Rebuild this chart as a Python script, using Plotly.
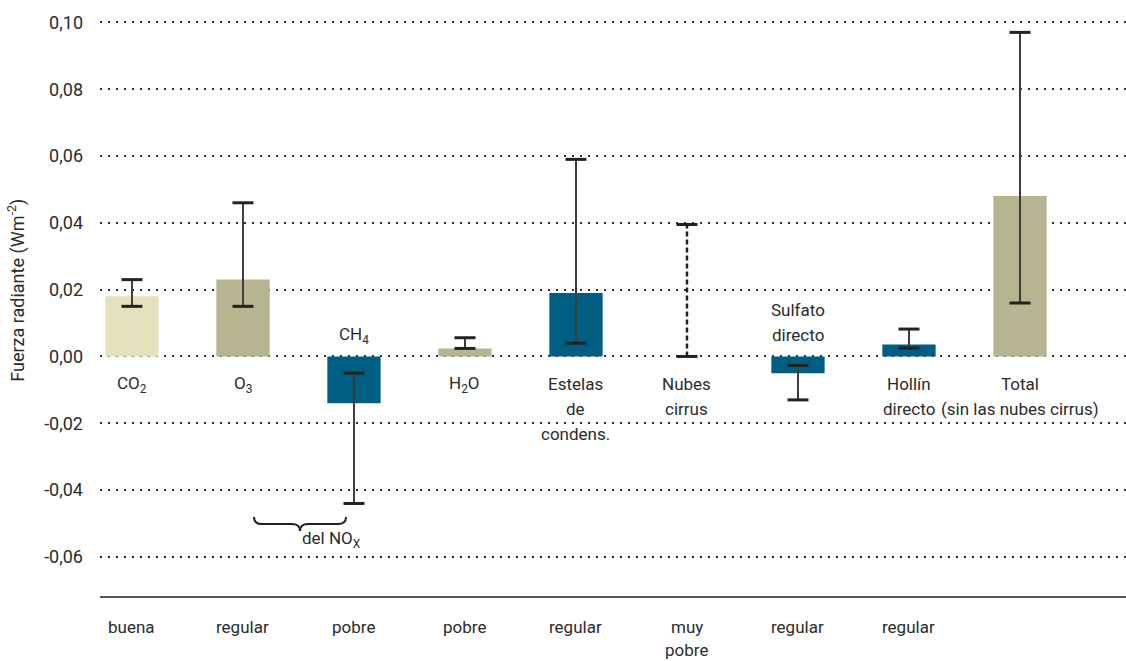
import plotly.graph_objects as go

# Forzamiento radiativo de la aviación (Wm-2) por componente
categories = ["CO2", "O3", "CH4", "H2O", "Estelas", "Nubes cirrus", "Sulfato", "Hollín", "Total"]
values = [0.018, 0.023, -0.014, 0.0024, 0.019, None, -0.005, 0.0036, 0.048]
err_low = [0.015, 0.015, -0.044, 0.0024, 0.004, 0.0, -0.013, 0.0025, 0.016]
err_high = [0.023, 0.046, -0.005, 0.0056, 0.059, 0.0395, -0.0027, 0.0082, 0.097]

# Etiquetas dentro del gráfico y nivel de conocimiento científico
labels = ["CO<sub>2</sub>", "O<sub>3</sub>", "CH<sub>4</sub>", "H<sub>2</sub>O",
          "Estelas<br>de<br>condens.", "Nubes<br>cirrus", "Sulfato<br>directo",
          "Hollín<br>directo", "Total<br>(sin las nubes cirrus)"]
label_side = ["below", "below", "above", "below", "below", "below", "above", "below", "below"]
knowledge = ["buena", "regular", "pobre", "pobre", "regular", "muy<br>pobre",
             "regular", "regular", ""]

tick_vals = [0.10, 0.08, 0.06, 0.04, 0.02, 0.00, -0.02, -0.04, -0.06]
tick_text = ["0,10", "0,08", "0,06", "0,04", "0,02", "0,00", "-0,02", "-0,04", "-0,06"]

BEIGE = "#E4E1BD"
OLIVE = "#B6B590"
BLUE = "#005E82"
bar_colors = [BEIGE, OLIVE, BLUE, OLIVE, BLUE, BLUE, BLUE, BLUE, OLIVE]

FONT = "Roboto, Liberation Sans Narrow, DejaVu Sans Condensed, sans-serif"
INK = "#2b2b2b"
LABEL_SIZE = 17

fig = go.Figure()

fig.add_trace(go.Bar(
    x=categories, y=values, width=0.48,
    marker=dict(color=bar_colors, line=dict(width=0)),
    hoverinfo="skip", showlegend=False,
))

# Barras de incertidumbre: trazo vertical + remates horizontales
solid_x, solid_y, dash_x, dash_y = [], [], [], []
for cat, lo, hi in zip(categories, err_low, err_high):
    if cat == "Nubes cirrus":
        dash_x += [cat, cat, None]
        dash_y += [lo, hi, None]
    else:
        solid_x += [cat, cat, None]
        solid_y += [lo, hi, None]

fig.add_trace(go.Scatter(
    x=solid_x, y=solid_y, mode="lines",
    line=dict(color="#3c3c3c", width=2), hoverinfo="skip", showlegend=False,
))
fig.add_trace(go.Scatter(
    x=dash_x, y=dash_y, mode="lines",
    line=dict(color="#222222", width=2.5, dash="5px,3px"),
    hoverinfo="skip", showlegend=False,
))
fig.add_trace(go.Scatter(
    x=categories + categories, y=err_low + err_high, mode="markers",
    marker=dict(symbol="line-ew", size=15, line=dict(color="#222222", width=3)),
    hoverinfo="skip", showlegend=False,
))

annotations = []


def add_lines(x, y, yref, text, first_shift, direction, gap):
    """Place each line of a multi-line label as its own annotation."""
    lines = text.split("<br>")
    if direction > 0:
        lines = lines[::-1]
    for i, line in enumerate(lines):
        annotations.append(dict(
            x=x, y=y, xref="x", yref=yref, text=line, showarrow=False,
            yanchor="middle", yshift=first_shift + direction * gap * i,
            font=dict(family=FONT, size=LABEL_SIZE, color=INK)))


for cat, text, side in zip(categories, labels, label_side):
    if side == "above":
        add_lines(cat, 0, "y", text, 21, +1, 25)
    else:
        add_lines(cat, 0, "y", text, -28, -1, 25)

for cat, text in zip(categories, knowledge):
    if text:
        add_lines(cat, 0, "paper", text, -31, -1, 23)

# Título del eje y
annotations.append(dict(x=-0.081, y=0.518, xref="paper", yref="paper",
                        xanchor="center", yanchor="middle",
                        text="Fuerza radiante (Wm<sup>-2</sup>)", textangle=-90,
                        showarrow=False, font=dict(family=FONT, size=18, color=INK)))

# Llave que agrupa O3 y CH4 como efectos del NOx
bx0, bx1, bxm = 0.1501, 0.2398, 0.1949
by0, byh, byt = 0.1337, 0.1218, 0.1100
r = 0.008
brace = (f"M {bx0},{by0} Q {bx0},{byh} {bx0 + r},{byh} L {bxm - r},{byh} "
         f"Q {bxm},{byh} {bxm},{byt} Q {bxm},{byh} {bxm + r},{byh} "
         f"L {bx1 - r},{byh} Q {bx1},{byh} {bx1},{by0}")
shapes = [dict(type="path", path=brace, xref="paper", yref="paper",
               line=dict(color="#222222", width=2))]
annotations.append(dict(x=bxm, y=0.0897, xref="paper", yref="paper",
                        yanchor="middle", yshift=3, text="del NO<sub>X</sub>",
                        showarrow=False,
                        font=dict(family=FONT, size=LABEL_SIZE, color=INK)))

fig.update_layout(
    width=1126, height=661,
    margin=dict(l=100, r=0, t=5, b=65),
    paper_bgcolor="white", plot_bgcolor="white",
    showlegend=False,
    annotations=annotations,
    shapes=shapes,
    font=dict(family=FONT, color=INK),
    xaxis=dict(type="category", range=[-0.288, 8.955], showticklabels=False,
               showgrid=False, zeroline=False, showline=True,
               linecolor="#555555", linewidth=2, ticks="", fixedrange=True),
    yaxis=dict(range=[-0.0717, 0.1052], tickvals=tick_vals, ticktext=tick_text,
               showgrid=True, gridcolor="#333333", gridwidth=1.5,
               griddash="2px,6px", zeroline=False, showline=False, ticks="",
               ticklabelstandoff=16,
               tickfont=dict(family=FONT, size=18, color=INK), fixedrange=True),
)

fig.write_html("out.html", config={"displayModeBar": False})
